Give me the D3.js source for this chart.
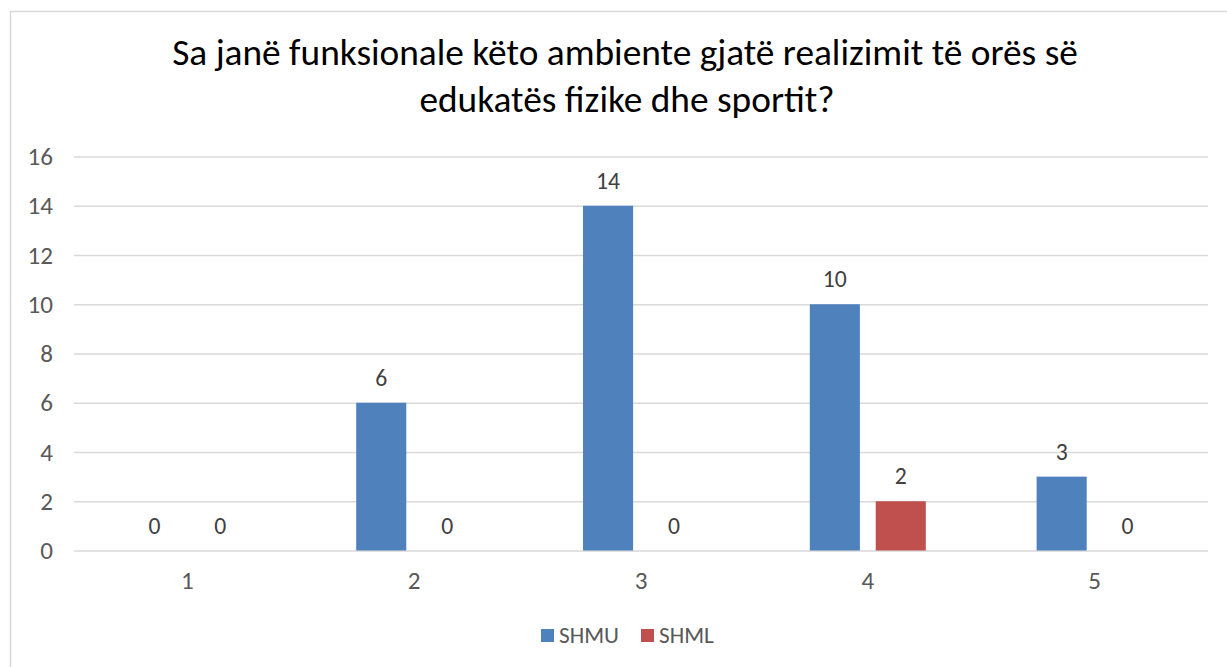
<!DOCTYPE html>
<html><head><meta charset="utf-8">
<script src="https://cdn.jsdelivr.net/npm/d3@7"></script>
<style>body{margin:0;background:#fff}svg{display:block}</style>
</head><body>
<script>
const categories = ["1","2","3","4","5"];
const seriesNames = ["SHMU","SHML"];
const shmu = [0,6,14,10,3];
const shml = [0,0,0,2,0];
const yTicks = [0,2,4,6,8,10,12,14,16];
const titleLines = ["Sa janë funksionale këto ambiente gjatë realizimit të orës së","edukatës fizike dhe sportit?"];
const colors = ["#4f81bd","#c0504d"];

const W=1227,H=667;
const font="Carlito, Calibri, 'Open Sans', 'Liberation Sans', sans-serif";
const svg=d3.select("body").append("svg").attr("width",W).attr("height",H);
svg.append("rect").attr("x",10.5).attr("y",11.5).attr("width",1240).attr("height",700)
  .attr("fill","#fff").attr("stroke","#d9d9d9").attr("stroke-width",1.5);

// font size that makes a string a given width
function fit(str, target){
  const tt=svg.append("text").attr("font-family",font).attr("font-size",20).text(str);
  const ww=tt.node().getComputedTextLength(); tt.remove();
  return 20*target/ww;
}
const tickFs=fit("16",25.5);
const labelFs=fit("10",24);
const legendFs=fit("SHMU",60);
const catFs=tickFs;

const x0=d3.scaleBand().domain(categories).range([74,1208]).paddingInner(0).paddingOuter(0);
const x1=d3.scaleBand().domain(seriesNames).range([x0.bandwidth()/2-58, x0.bandwidth()/2+58]).paddingInner(0.24);
const y=d3.scaleLinear().domain([0,16]).range([550.5,156.5]);

// title
const t=svg.append("g").attr("font-family",font).attr("fill","#000");
const fs=fit(titleLines[0],906);
t.append("text").attr("x",625).attr("y",65).attr("text-anchor","middle").attr("font-size",fs).text(titleLines[0]);
t.append("text").attr("x",627).attr("y",112).attr("text-anchor","middle").attr("font-size",fs).text(titleLines[1]);

// grid + y axis
const yAxis=d3.axisLeft(y).tickValues(yTicks).tickSize(-(1208-74)).tickPadding(21).tickFormat(d3.format("d"));
const ga=svg.append("g").attr("transform","translate(74,0)").call(yAxis);
ga.select(".domain").remove();
ga.selectAll(".tick line").attr("stroke","#d9d9d9").attr("stroke-width",1.5);
ga.selectAll(".tick text").attr("font-family",font).attr("font-size",tickFs).attr("fill","#595959");

// x axis labels
const xa=d3.axisBottom(x0).tickSize(0).tickPadding(0);
const gx=svg.append("g").attr("transform","translate(0,550.5)").call(xa);
gx.select(".domain").remove();
gx.selectAll(".tick text").attr("font-family",font).attr("font-size",catFs).attr("fill","#595959").attr("dy",0).attr("y",38.5);

const data=categories.map((c,i)=>({c,vals:[{s:"SHMU",v:shmu[i]},{s:"SHML",v:shml[i]}]}));
const groups=svg.append("g").selectAll("g").data(data).join("g").attr("transform",d=>`translate(${x0(d.c)},0)`);
groups.selectAll("rect").data(d=>d.vals).join("rect")
  .attr("x",d=>x1(d.s)).attr("width",x1.bandwidth())
  .attr("y",d=>y(d.v)).attr("height",d=>y(0)-y(d.v))
  .attr("fill",(d,i)=>colors[i]);
groups.selectAll("text").data(d=>d.vals).join("text")
  .attr("x",d=>x1(d.s)+x1.bandwidth()/2).attr("y",d=>y(d.v)-17)
  .attr("text-anchor","middle").attr("font-family",font).attr("font-size",labelFs).attr("fill","#404040")
  .text(d=>d.v);

// legend
const lg=svg.append("g").attr("font-family",font).attr("font-size",legendFs).attr("fill","#595959");
const lx=[541,641];
seriesNames.forEach((s,i)=>{
  lg.append("rect").attr("x",lx[i]).attr("y",629).attr("width",13).attr("height",13).attr("fill",colors[i]);
  lg.append("text").attr("x",lx[i]+18).attr("y",643).text(s);
});
</script>
</body></html>
